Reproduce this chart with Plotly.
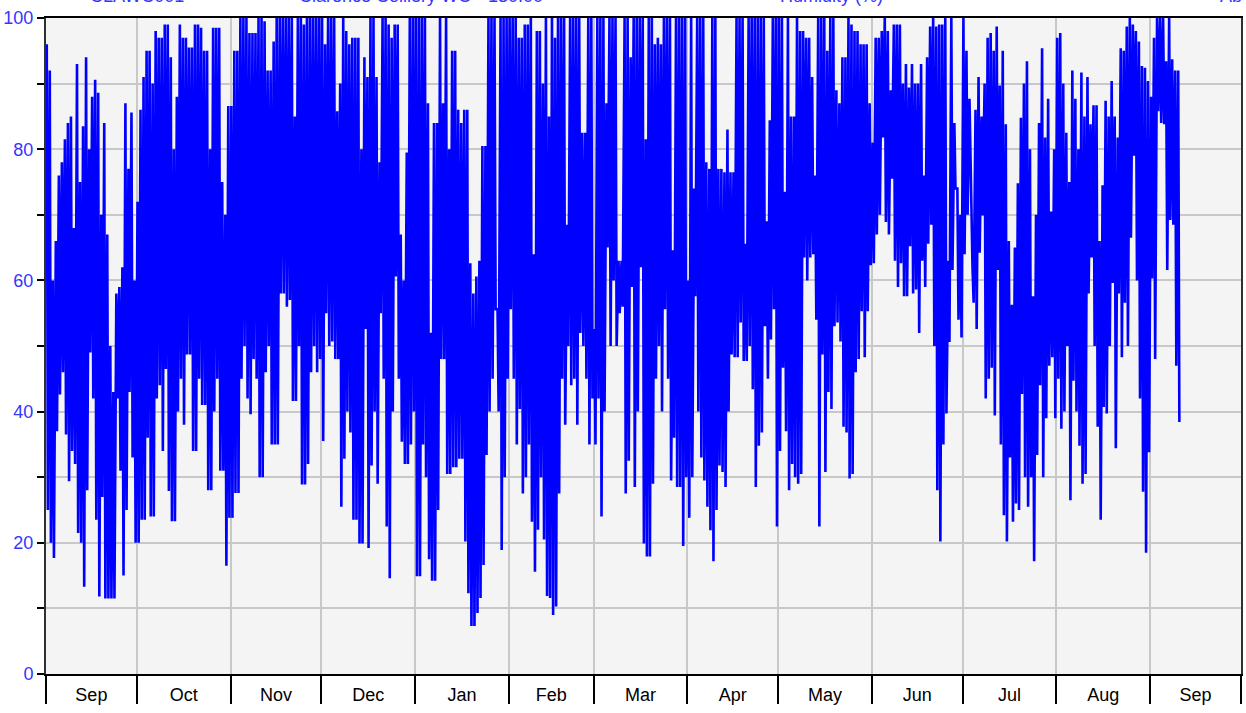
import datetime as dt
import plotly.graph_objects as go

# Daily maximum / minimum relative humidity (%), one value per day
sep_hi = [96, 92, 60, 66, 76, 78, 81.5, 84, 85, 68, 93, 75, 83.5, 94, 80, 88, 90.6, 88.6, 70, 84,
          67, 50, 43, 58, 59, 62, 87, 77, 85.6, 60]
sep_lo = [25, 20, 17.7, 37, 42.6, 46, 36.5, 29.4, 34, 32, 21.5, 20, 13.3, 28, 49, 42, 23.5, 11.8, 27, 11.5,
          11.5, 11.5, 11.5, 42, 31, 15, 25, 43, 33, 20]
oct_hi = [72, 86, 91, 95, 95, 90, 98, 97, 97, 99, 99, 94, 80, 88, 99, 97, 97, 95.5, 95.5, 99,
          99, 98.5, 95, 95, 80, 98.5, 98.5, 98.5, 75, 70, 86.6]
oct_lo = [20, 23.5, 23.5, 36, 24, 24, 42, 44, 34, 46.5, 27.9, 23.3, 23.3, 40, 45, 38, 48.7, 48.7, 34, 34,
          45, 41, 41, 28, 28, 40, 45, 31, 31, 16.5, 23.8]
nov_hi = [86.6, 95, 95, 100, 100, 100, 97.7, 97.7, 97.7, 100, 100, 99.5, 92, 92, 96.4, 100, 100, 100, 100, 100,
          100, 85, 100, 100, 99, 100, 100, 100, 100, 100]
nov_lo = [23.8, 27.6, 27.6, 45, 50, 42, 39.6, 48, 45, 30, 30, 46, 50, 35, 35, 35, 58, 58, 56, 57,
          41.6, 41.6, 50, 28.9, 28.9, 32, 46, 50, 46, 48]
dec_hi = [100, 96, 100, 100, 100, 85.8, 90, 100, 98, 96, 97, 97, 97, 80, 94, 91, 100, 100, 91, 78,
          100, 100, 99, 97, 99, 99, 67, 60, 79.5, 100, 100]
dec_lo = [35.5, 55, 50, 50.7, 48, 48, 25.5, 32.8, 40, 36.8, 23.5, 23.5, 19.9, 19.9, 52.6, 19.2, 31.8, 40, 29, 55,
          45, 22.5, 14.6, 40, 60.6, 45, 35.4, 32, 32, 35, 40]
jan_hi = [100, 100, 100, 100, 87, 52, 84, 84, 100, 87, 100, 80, 95, 95, 86, 84, 86, 86, 62.6, 58,
          60.6, 63, 80.5, 80.5, 100, 100, 100, 55.6, 100, 100, 100]
jan_lo = [14.9, 14.9, 35, 30, 17.5, 14.2, 14.2, 25, 48, 48, 30.5, 30.5, 31.5, 31.5, 32.8, 32.8, 20.2, 12.3, 7.3, 7.3,
          9.3, 11.6, 16.6, 33.4, 40, 45, 55.6, 40, 18.9, 30, 45]
feb_hi = [100, 100, 100, 97, 97, 99, 99, 100, 64, 98, 98, 90, 100, 85, 100, 97, 100, 100, 100, 68.5,
          100, 100, 100, 100, 82.5, 82.5, 100, 100]
feb_lo = [55.6, 45, 35, 40.4, 27.5, 30, 35, 23.2, 15.6, 22, 30, 20.5, 11.9, 11.6, 9, 10.3, 27.5, 45, 38, 50,
          44, 45, 38, 52, 50, 45, 35, 42]
mar_hi = [52.6, 100, 100, 100, 87, 100, 100, 100, 63, 63, 100, 100, 94, 100, 100, 100, 100, 81.5, 100, 100,
          96, 97, 96, 100, 100, 100, 64.6, 100, 100, 100, 100]
mar_lo = [35, 42, 24, 40, 65, 50, 60, 50, 55, 56, 27.5, 32.5, 59, 28.5, 40, 62, 19.9, 17.9, 17.9, 29,
          45, 50, 40, 55.6, 45, 29.5, 36, 28.5, 28.5, 19.5, 30]
apr_hi = [60, 100, 74, 100, 100, 100, 78, 77, 100, 100, 77, 77, 76.5, 83, 76.5, 76.5, 100, 100, 100, 65.6,
          100, 100, 100, 100, 100, 100, 69, 84.4, 100, 100]
apr_lo = [23.8, 30, 57.6, 40, 33, 29.5, 25.5, 21.9, 17.2, 25, 31.8, 30.8, 28.5, 40, 48.7, 48.3, 48.3, 53.6, 47.7, 47.7,
          50, 43.4, 28.5, 34.8, 36.8, 53, 45, 51, 55.6, 22.5]
may_hi = [100, 100, 73.5, 100, 85, 85, 100, 98, 98, 97, 97, 91, 76, 100, 100, 100, 95, 100, 100, 89,
          87, 94, 94, 100, 99, 98, 98, 96, 96, 96, 87]
may_lo = [34, 46.7, 37, 28, 32, 30, 29, 30.5, 63.5, 60, 63.5, 64, 54, 22.5, 48.7, 30.8, 43, 40.4, 53, 53.6,
          50.7, 37.7, 36.8, 29.8, 30.5, 46, 48, 55.3, 48.3, 55.3, 62.3]
jun_hi = [81, 97, 97, 98, 100, 98, 89, 99, 99, 99, 90, 93, 89.4, 93, 90, 90, 93, 76, 94, 98.7,
          100, 98.7, 99, 99, 100, 63, 100, 84, 74, 70]
jun_lo = [62.6, 67, 70, 81.8, 68.9, 67, 75.5, 63, 59, 62.6, 57.6, 57.6, 65.2, 58, 58.6, 52, 63, 59, 65.6, 68.5,
          50, 28, 20.2, 35, 39.7, 50.6, 61.6, 74, 54, 51.3]
jul_hi = [100, 95, 87.7, 62, 86, 91, 85, 90, 97, 97.7, 95, 98.7, 89.7, 95, 83.8, 66, 56.3, 65, 74.8, 84.8,
          90, 93.4, 80, 57.6, 70, 84, 95.4, 81.8, 87.7, 70.5, 80]
jul_lo = [64, 70, 75, 56.6, 52.6, 64.2, 69.9, 42, 45, 46.7, 39.4, 61.6, 35, 24.2, 20.2, 33, 23.2, 26, 25, 42.7,
          30, 25.5, 30, 17.2, 33.4, 44, 30, 39, 47, 48.3, 39]
aug_hi = [97, 97.7, 90, 82.5, 75, 92, 87.7, 80, 91.7, 85, 91, 83.8, 86.7, 86.7, 66, 74.5, 87.4, 85, 90.4, 85,
          81.8, 95.4, 95, 98.7, 100, 99, 98, 96.4, 92.7, 92.4, 90.4]
aug_lo = [45, 37.4, 40, 50, 26.5, 44.7, 40, 34.8, 29, 30.5, 58, 63.5, 50, 37.7, 23.5, 40.7, 39.7, 50, 59.6, 34.4,
          58, 48.3, 56.6, 50, 66.5, 79, 60, 42, 27.8, 18.5, 33.8]
sep2_hi = [88, 97, 100, 100, 100, 93.4, 100, 93.7, 92, 92]
sep2_lo = [60.3, 48, 85.8, 84, 83.8, 61.6, 69.2, 68.5, 47, 38.4]

blocks = [
    (2018, 9, sep_hi, sep_lo), (2018, 10, oct_hi, oct_lo), (2018, 11, nov_hi, nov_lo),
    (2018, 12, dec_hi, dec_lo), (2019, 1, jan_hi, jan_lo), (2019, 2, feb_hi, feb_lo),
    (2019, 3, mar_hi, mar_lo), (2019, 4, apr_hi, apr_lo), (2019, 5, may_hi, may_lo),
    (2019, 6, jun_hi, jun_lo), (2019, 7, jul_hi, jul_lo), (2019, 8, aug_hi, aug_lo),
    (2019, 9, sep2_hi, sep2_lo),
]

# early-morning maximum, mid-afternoon minimum
x, y = [], []
for yr, mo, hi, lo in blocks:
    for i, (h, l) in enumerate(zip(hi, lo)):
        day = dt.datetime(yr, mo, i + 1)
        x += [day + dt.timedelta(hours=6), day + dt.timedelta(hours=15)]
        y += [h, l]

header = [("CLAWC001", 0.035), ("Clarence Colliery WO - 130.00", 0.210),
          ("Humidity (%)", 0.6126), ("Ab", 0.9808)]

fig = go.Figure()
fig.add_trace(go.Scatter(x=x, y=y, mode="lines", line=dict(color="#0000ff", width=2.6),
                         hoverinfo="x+y"))

# header row sits above the page edge, only its bottom shows (as in the original)
for txt, xp in header:
    fig.add_annotation(text=txt, xref="paper", yref="paper", x=xp, y=1.0145,
                       xanchor="left", yanchor="bottom", showarrow=False,
                       font=dict(size=18, color="#3535ff"))

fig.update_layout(
    width=1246, height=713,
    margin=dict(l=46, r=5, t=18, b=39, autoexpand=False),
    plot_bgcolor="#f4f4f4", paper_bgcolor="white",
    showlegend=False,
    font=dict(family="Liberation Sans, Arial, sans-serif", size=18, color="black"),
)
fig.update_xaxes(
    type="date", range=["2018-09-01", "2019-10-01"], automargin=False,
    tick0="2018-09-01", dtick="M1", tickformat="%b", ticklabelmode="period",
    ticks="outside", ticklen=28, tickwidth=2, tickcolor="black",
    ticklabelstandoff=-25,
    showgrid=True, gridcolor="#c8c8c8", gridwidth=1.5,
    showline=True, linecolor="black", linewidth=2, mirror=True,
    tickfont=dict(size=18, color="black"),
)
fig.update_yaxes(
    range=[0, 100], automargin=False,
    tickvals=list(range(0, 101, 10)),
    ticktext=[str(v) if v % 20 == 0 else "" for v in range(0, 101, 10)],
    ticks="outside", ticklen=7, tickwidth=1.5, tickcolor="black",
    showgrid=True, gridcolor="#c8c8c8", gridwidth=1.5, zeroline=False,
    showline=True, linecolor="#303030", linewidth=2, mirror=True,
    tickfont=dict(size=18, color="#3535ff"),
)

fig.write_html("out.html", config={"displayModeBar": False},
               post_script="document.body.style.margin = '0';")
